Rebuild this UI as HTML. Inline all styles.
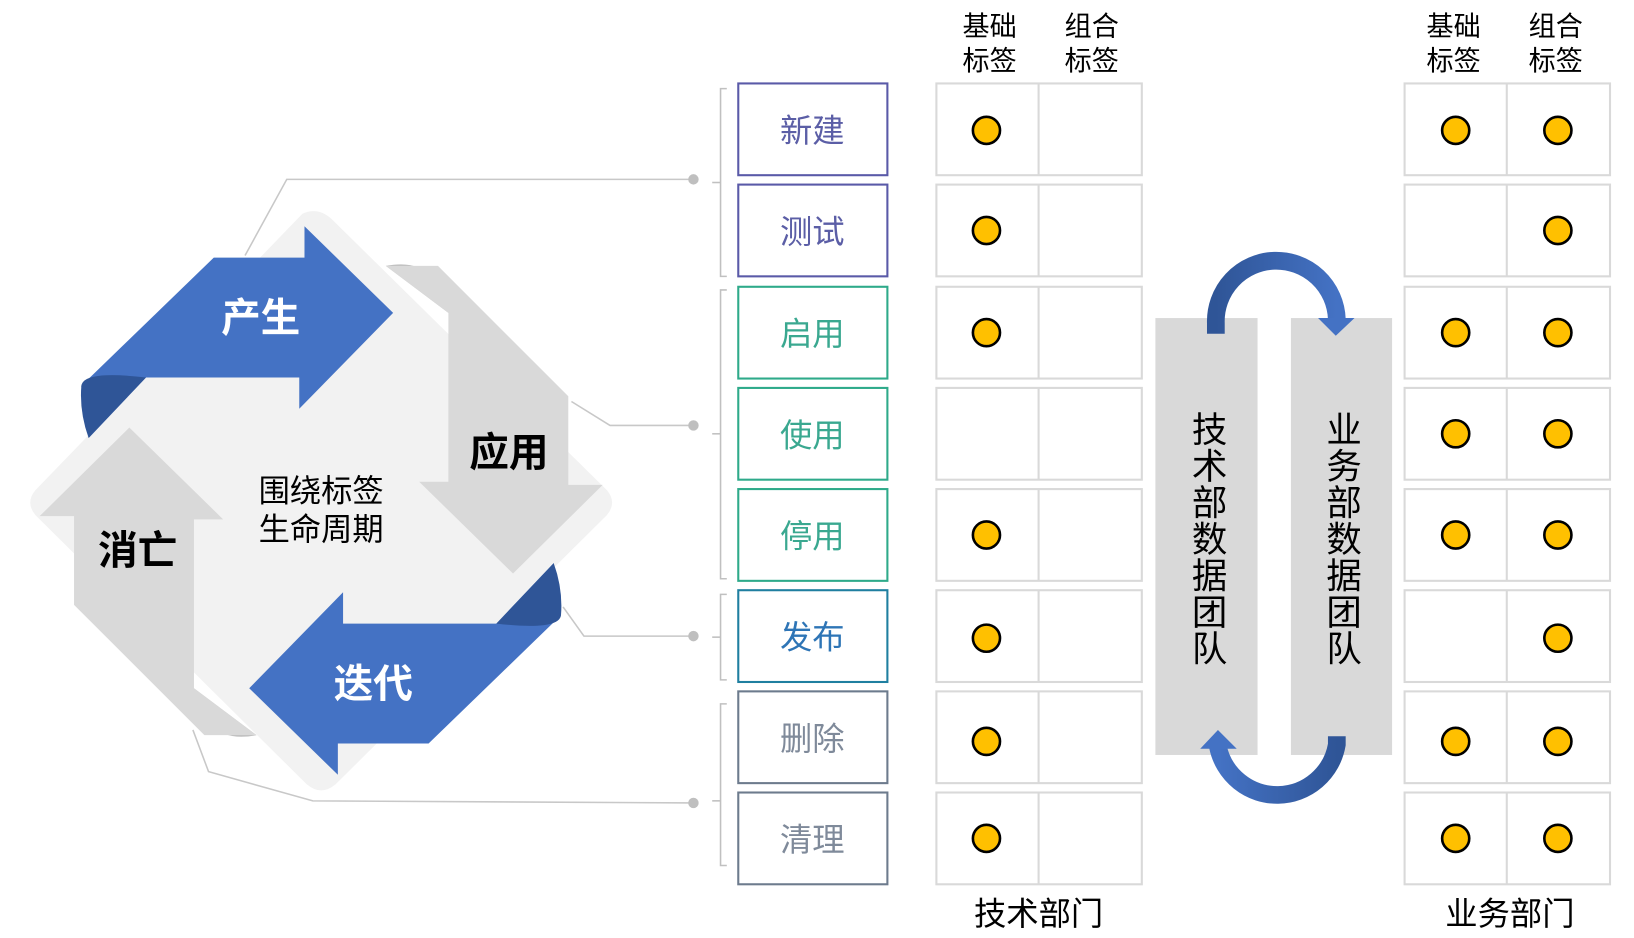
<!DOCTYPE html>
<html><head><meta charset="utf-8"><style>
body{margin:0;background:#fff}
svg{display:block}
svg text{font-family:"Liberation Sans","Noto Sans CJK SC",sans-serif}
</style></head><body>
<svg width="1634" height="938" viewBox="0 0 1567 899.5" xmlns="http://www.w3.org/2000/svg">
<g stroke="#c8c8c8" stroke-width="1.5" fill="none">
<polyline points="235,245 275,172 665,172"/>
<polyline points="548,385 585,408 665,408"/>
<polyline points="540,582 560,610 665,610"/>
<polyline points="185,700 200,740 300,768 665,770"/>
</g>
<g fill="#bfbfbf"><circle cx="665" cy="172" r="5"/><circle cx="665" cy="408" r="5"/><circle cx="665" cy="610" r="5"/><circle cx="665" cy="770" r="5"/></g>
<path d="M290,205 Q305,198 318,210 L582,470 Q592,482 582,494 L322,752 Q308,764 294,752 L34,494 Q24,482 34,470 Z" fill="#f2f2f2"/>
<path d="M370,255 Q420,245 430,300 Z" fill="#bfbfbf"/>
<polygon points="370,255 420,255 545,380 545,465 578,465 492,550 402,462 430,462 430,300" fill="#d9d9d9"/>
<path d="M246,705 Q196,715 186,660 Z" fill="#bfbfbf"/>
<polygon points="246,705 196,705 71,580 71,495 38,495 124,410 214,498 186,498 186,660" fill="#d9d9d9"/>
<polygon points="78,370 205,247 292,247 292,217 377,300 287,392 287,362 140,362 85,420" fill="#4472c4"/>
<path d="M78,370 Q80,355 140,362 L85,420 Q76,395 78,370 Z" fill="#2f5597"/>
<polygon points="538,590 411,713 324,713 324,743 239,660 329,568 329,598 476,598 531,540" fill="#4472c4"/>
<path d="M538,590 Q536,605 476,598 L531,540 Q540,565 538,590 Z" fill="#2f5597"/>
<g font-weight="bold" font-size="38" text-anchor="middle">
<text x="250" y="318" fill="#fff">产生</text>
<text x="488" y="447" fill="#000">应用</text>
<text x="132" y="541" fill="#000">消亡</text>
<text x="358" y="669" fill="#fff">迭代</text>
</g>
<g font-size="30" text-anchor="middle" fill="#000">
<text x="308" y="481">围绕标签</text>
<text x="308" y="518">生命周期</text>
</g>
<g stroke="#c0c0c0" stroke-width="1.5" fill="none">
<polyline points="697,85 691,85 691,265 697,265"/><line x1="683" y1="175" x2="691" y2="175"/>
<polyline points="697,278 691,278 691,555 697,555"/><line x1="683" y1="416" x2="691" y2="416"/>
<polyline points="697,570 691,570 691,652 697,652"/><line x1="683" y1="611" x2="691" y2="611"/>
<polyline points="697,675 691,675 691,830 697,830"/><line x1="683" y1="768" x2="691" y2="768"/>
</g>
<g font-size="31" text-anchor="middle" stroke-width="2" fill="none">
<rect x="708" y="80" width="143" height="88" stroke="#5a5aa8"/><text x="779" y="136" fill="#5b5ea6" stroke="none">新建</text>
<rect x="708" y="177" width="143" height="88" stroke="#5a5aa8"/><text x="779" y="233" fill="#5b5ea6" stroke="none">测试</text>
<rect x="708" y="275" width="143" height="88" stroke="#2eaa8a"/><text x="779" y="331" fill="#3aa890" stroke="none">启用</text>
<rect x="708" y="372" width="143" height="88" stroke="#2eaa8a"/><text x="779" y="428" fill="#3aa890" stroke="none">使用</text>
<rect x="708" y="469" width="143" height="88" stroke="#2eaa8a"/><text x="779" y="525" fill="#3aa890" stroke="none">停用</text>
<rect x="708" y="566" width="143" height="88" stroke="#1f7fa0"/><text x="779" y="622" fill="#2e75b6" stroke="none">发布</text>
<rect x="708" y="663" width="143" height="88" stroke="#6d7b8d"/><text x="779" y="719" fill="#7f8a9a" stroke="none">删除</text>
<rect x="708" y="760" width="143" height="88" stroke="#6d7b8d"/><text x="779" y="816" fill="#7f8a9a" stroke="none">清理</text>
</g>
<g stroke="#d9d9d9" stroke-width="2" fill="none">
<rect x="898" y="80" width="197" height="88"/><line x1="996" y1="80" x2="996" y2="168"/>
<rect x="898" y="177" width="197" height="88"/><line x1="996" y1="177" x2="996" y2="265"/>
<rect x="898" y="275" width="197" height="88"/><line x1="996" y1="275" x2="996" y2="363"/>
<rect x="898" y="372" width="197" height="88"/><line x1="996" y1="372" x2="996" y2="460"/>
<rect x="898" y="469" width="197" height="88"/><line x1="996" y1="469" x2="996" y2="557"/>
<rect x="898" y="566" width="197" height="88"/><line x1="996" y1="566" x2="996" y2="654"/>
<rect x="898" y="663" width="197" height="88"/><line x1="996" y1="663" x2="996" y2="751"/>
<rect x="898" y="760" width="197" height="88"/><line x1="996" y1="760" x2="996" y2="848"/>
<rect x="1347" y="80" width="197" height="88"/><line x1="1445" y1="80" x2="1445" y2="168"/>
<rect x="1347" y="177" width="197" height="88"/><line x1="1445" y1="177" x2="1445" y2="265"/>
<rect x="1347" y="275" width="197" height="88"/><line x1="1445" y1="275" x2="1445" y2="363"/>
<rect x="1347" y="372" width="197" height="88"/><line x1="1445" y1="372" x2="1445" y2="460"/>
<rect x="1347" y="469" width="197" height="88"/><line x1="1445" y1="469" x2="1445" y2="557"/>
<rect x="1347" y="566" width="197" height="88"/><line x1="1445" y1="566" x2="1445" y2="654"/>
<rect x="1347" y="663" width="197" height="88"/><line x1="1445" y1="663" x2="1445" y2="751"/>
<rect x="1347" y="760" width="197" height="88"/><line x1="1445" y1="760" x2="1445" y2="848"/>
</g>
<g fill="#ffc000" stroke="#000" stroke-width="2.5">
<circle cx="946" cy="125" r="13"/><circle cx="946" cy="221" r="13"/><circle cx="946" cy="319" r="13"/>
<circle cx="946" cy="513" r="13"/><circle cx="946" cy="612" r="13"/><circle cx="946" cy="711" r="13"/><circle cx="946" cy="804" r="13"/>
<circle cx="1396" cy="125" r="13"/><circle cx="1396" cy="319" r="13"/><circle cx="1396" cy="416" r="13"/>
<circle cx="1396" cy="513" r="13"/><circle cx="1396" cy="711" r="13"/><circle cx="1396" cy="804" r="13"/>
<circle cx="1494" cy="125" r="13"/><circle cx="1494" cy="221" r="13"/><circle cx="1494" cy="319" r="13"/><circle cx="1494" cy="416" r="13"/>
<circle cx="1494" cy="513" r="13"/><circle cx="1494" cy="612" r="13"/><circle cx="1494" cy="711" r="13"/><circle cx="1494" cy="804" r="13"/>
</g>
<g font-size="26" text-anchor="middle" fill="#000">
<text x="949" y="34">基础</text><text x="949" y="67">标签</text>
<text x="1047" y="34">组合</text><text x="1047" y="67">标签</text>
<text x="1394" y="34">基础</text><text x="1394" y="67">标签</text>
<text x="1492" y="34">组合</text><text x="1492" y="67">标签</text>
<text x="996" y="887" font-size="31">技术部门</text>
<text x="1448" y="887" font-size="31">业务部门</text>
</g>
<rect x="1108" y="305" width="98" height="419" fill="#d9d9d9"/>
<rect x="1238" y="305" width="97" height="419" fill="#d9d9d9"/>
<g font-size="34" text-anchor="middle" fill="#000">
<text x="1160" y="424">技</text><text x="1160" y="459">术</text><text x="1160" y="494">部</text><text x="1160" y="529">数</text><text x="1160" y="564">据</text><text x="1160" y="599">团</text><text x="1160" y="634">队</text>
<text x="1289" y="424">业</text><text x="1289" y="459">务</text><text x="1289" y="494">部</text><text x="1289" y="529">数</text><text x="1289" y="564">据</text><text x="1289" y="599">团</text><text x="1289" y="634">队</text>
</g>
<defs>
<linearGradient id="g1" x1="0" x2="1" y1="0" y2="0"><stop offset="0" stop-color="#2f5597"/><stop offset="1" stop-color="#4472c4"/></linearGradient>
<linearGradient id="g2" x1="1" x2="0" y1="0" y2="0"><stop offset="0" stop-color="#2f5597"/><stop offset="1" stop-color="#4472c4"/></linearGradient>
</defs>
<path d="M1166,320 L1166,310 A58,58 0 0 1 1282,306" stroke="url(#g1)" stroke-width="17" fill="none"/>
<polygon points="1264,305 1299,305 1281,322" fill="#4472c4"/>
<path d="M1282,706 L1282,714 A58,58 0 0 1 1168,716" stroke="url(#g2)" stroke-width="17" fill="none"/>
<polygon points="1151,718 1186,718 1168,700" fill="#4472c4"/>
</svg>
</body></html>
